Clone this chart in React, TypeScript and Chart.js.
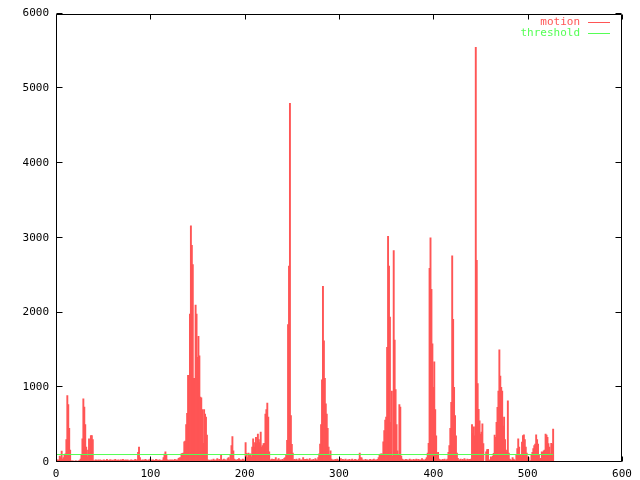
import { useEffect, useRef } from "react";
import { Chart, registerables } from "chart.js";

Chart.register(...registerables);

// motion value per frame index (0..527)
const motion: number[] = [
  20, 25, 30, 20, 80, 60, 145, 40, 60, 90,
  110, 300, 890, 770, 450, 160, 15, 12, 14, 10,
  12, 15, 13, 10, 14, 20, 40, 90, 310, 845,
  735, 500, 200, 70, 160, 310, 120, 355, 355, 300,
  20, 15, 30, 25, 20, 28, 18, 30, 22, 15,
  25, 30, 20, 18, 35, 22, 15, 28, 30, 20,
  25, 18, 30, 35, 20, 22, 28, 15, 25, 30,
  20, 35, 25, 18, 30, 22, 28, 20, 15, 25,
  30, 22, 18, 25, 35, 20, 28, 130, 200, 60,
  25, 18, 30, 20, 28, 35, 22, 15, 30, 25,
  40, 20, 25, 30, 18, 22, 35, 28, 20, 25,
  30, 22, 18, 25, 60, 105, 135, 90, 30, 25,
  20, 28, 22, 30, 18, 25, 35, 20, 28, 25,
  50, 55, 60, 110, 115, 120, 270, 280, 500, 650,
  1160, 1155, 1980, 3160, 2900, 2640, 1120, 1120, 2100, 1980,
  1400, 1680, 1420, 870, 860, 700, 250, 700, 640, 600,
  360, 30, 20, 25, 15, 30, 20, 40, 25, 18,
  30, 45, 20, 35, 25, 90, 30, 20, 40, 25,
  30, 20, 45, 60, 30, 90, 220, 340, 150, 40,
  25, 30, 20, 35, 45, 25, 30, 20, 40, 30,
  20, 260, 115, 60, 120, 90, 110, 70, 200, 310,
  200, 260, 330, 250, 375, 300, 260, 400, 200, 220,
  245, 250, 640, 700, 790, 600, 135, 30, 25, 40,
  20, 35, 25, 60, 20, 30, 45, 25, 30, 20,
  35, 25, 50, 60, 100, 290, 1840, 2620, 4800, 620,
  235, 120, 30, 35, 25, 40, 20, 30, 45, 25,
  30, 20, 60, 25, 35, 20, 40, 30, 25, 45,
  20, 30, 25, 35, 20, 45, 30, 25, 60, 110,
  240, 500, 1100, 2350, 1620, 1120, 780, 640, 450, 200,
  100, 150, 40, 25, 30, 20, 35, 25, 40, 20,
  30, 25, 45, 20, 35, 30, 25, 40, 20, 30,
  25, 35, 20, 30, 40, 25, 20, 35, 30, 25,
  20, 40, 120, 60, 55, 30, 25, 20, 35, 25,
  30, 20, 25, 35, 20, 30, 25, 40, 20, 30,
  25, 35, 60, 90, 105, 110, 105, 270, 420, 560,
  600, 1535, 3020, 2620, 1940, 530, 950, 80, 2830, 1630,
  970, 500, 150, 100, 770, 735, 80, 40, 25, 30,
  20, 35, 25, 30, 20, 40, 25, 30, 20, 35,
  25, 30, 40, 20, 35, 25, 30, 20, 45, 25,
  30, 20, 40, 60, 120, 250, 2590, 3000, 2310, 1580,
  1000, 1340, 700, 350, 110, 130, 40, 25, 30, 20,
  35, 25, 40, 20, 30, 40, 130, 220, 450, 800,
  2760, 1910, 1000, 620, 350, 120, 50, 25, 30, 40,
  20, 35, 25, 45, 30, 20, 40, 25, 35, 30,
  40, 500, 380, 470, 350, 5550, 2700, 1050, 705, 550,
  375, 400, 510, 245, 5, 10, 135, 165, 170, 20,
  30, 70, 60, 80, 115, 360, 330, 530, 730, 950,
  1500, 1150, 1000, 950, 480, 600, 300, 160, 130, 820,
  120, 40, 30, 20, 60, 40, 30, 20, 90, 180,
  310, 200, 90, 60, 265, 355, 365, 300, 200, 120,
  70, 60, 10, 20, 90, 130, 180, 220, 240, 365,
  300, 240, 90, 40, 50, 135, 130, 150, 160, 375,
  360, 330, 245, 200, 110, 250, 240, 440,
];

const thresholdValue = 100;
const seriesNames = ["motion", "threshold"];
const xTicks = [0, 100, 200, 300, 400, 500, 600];
const yTicks = [0, 1000, 2000, 3000, 4000, 5000, 6000];

const RED = "rgb(255,85,85)";
const GREEN = "rgb(85,255,85)";
const FONT = "DejaVu Sans Mono";

const framePlugin = {
  id: "gnuframe",
  afterDraw(chart: any) {
    const { ctx, chartArea } = chart;
    const { left, right, top, bottom } = chartArea;
    const xs = chart.scales.x;
    const ys = chart.scales.y;
    ctx.save();
    ctx.strokeStyle = "#000";
    ctx.lineWidth = 1;
    const L = Math.round(left) + 0.5;
    const R = Math.round(right) - 0.5;
    const T = Math.round(top) + 0.5;
    const B = Math.round(bottom) - 0.5;
    ctx.beginPath();
    ctx.rect(L, T, R - L, B - T);
    for (const v of yTicks) {
      const py = Math.round(ys.getPixelForValue(v)) - 0.5;
      ctx.moveTo(L, py);
      ctx.lineTo(L + 6, py);
      ctx.moveTo(R, py);
      ctx.lineTo(R - 6, py);
    }
    for (const v of xTicks) {
      const px = Math.round(xs.getPixelForValue(v)) + 0.5;
      ctx.moveTo(px, B);
      ctx.lineTo(px, B - 5);
      ctx.moveTo(px, T);
      ctx.lineTo(px, T + 5);
    }
    ctx.stroke();

    // legend (gnuplot style: right aligned label, then sample line)
    ctx.font = `11px "${FONT}"`;
    ctx.textAlign = "right";
    ctx.textBaseline = "middle";
    const cols = [RED, GREEN];
    seriesNames.forEach((name, i) => {
      const y = 22 + i * 11;
      ctx.fillStyle = cols[i];
      ctx.fillText(name, 580, y);
      ctx.strokeStyle = cols[i];
      ctx.beginPath();
      ctx.moveTo(588, y + 0.5);
      ctx.lineTo(610, y + 0.5);
      ctx.stroke();
    });
    ctx.restore();
  },
};

export default function App() {
  const ref = useRef<HTMLCanvasElement | null>(null);

  useEffect(() => {
    if (!ref.current) return;
    const motionPts = motion.map((v, i) => ({ x: i, y: v }));
    const thrPts = [
      { x: 0, y: thresholdValue },
      { x: motion.length - 1, y: thresholdValue },
    ];
    const chart = new Chart(ref.current, {
      type: "bar",
      data: {
        datasets: [
          {
            type: "bar",
            label: seriesNames[0],
            data: motionPts,
            backgroundColor: RED,
            borderWidth: 0,
            barThickness: 1.25,
            grouped: false,
            order: 1,
          },
          {
            type: "line",
            label: seriesNames[1],
            data: thrPts,
            borderColor: GREEN,
            borderWidth: 1,
            pointRadius: 0,
            fill: false,
            order: 0,
          },
        ],
      },
      options: {
        animation: false,
        responsive: false,
        devicePixelRatio: 1,
        layout: { autoPadding: false, padding: { left: 0, right: 18, top: 5, bottom: 0 } },
        plugins: { legend: { display: false }, tooltip: { enabled: false } },
        scales: {
          x: {
            type: "linear",
            min: 0,
            max: 600,
            offset: false,
            grid: { display: false, drawTicks: false, offset: false },
            border: { display: false },
            ticks: {
              stepSize: 100,
              color: "#000",
              font: { family: FONT, size: 11 },
              maxRotation: 0,
              padding: 6,
              callback: (v: any) => String(v),
            },
            afterFit: (s: any) => {
              s.height = 18;
            },
          },
          y: {
            type: "linear",
            min: 0,
            max: 6000,
            grid: { display: false, drawTicks: false },
            border: { display: false },
            ticks: {
              stepSize: 1000,
              color: "#000",
              font: { family: FONT, size: 11 },
              padding: 7,
              callback: (v: any) => String(v),
            },
            afterFit: (s: any) => {
              s.width = 56;
            },
          },
        },
      },
      plugins: [framePlugin],
    });
    return () => chart.destroy();
  }, []);

  return (
    <canvas
      ref={ref}
      width={640}
      height={480}
      style={{ position: "fixed", left: 0, top: 0, width: 640, height: 480 }}
    />
  );
}
